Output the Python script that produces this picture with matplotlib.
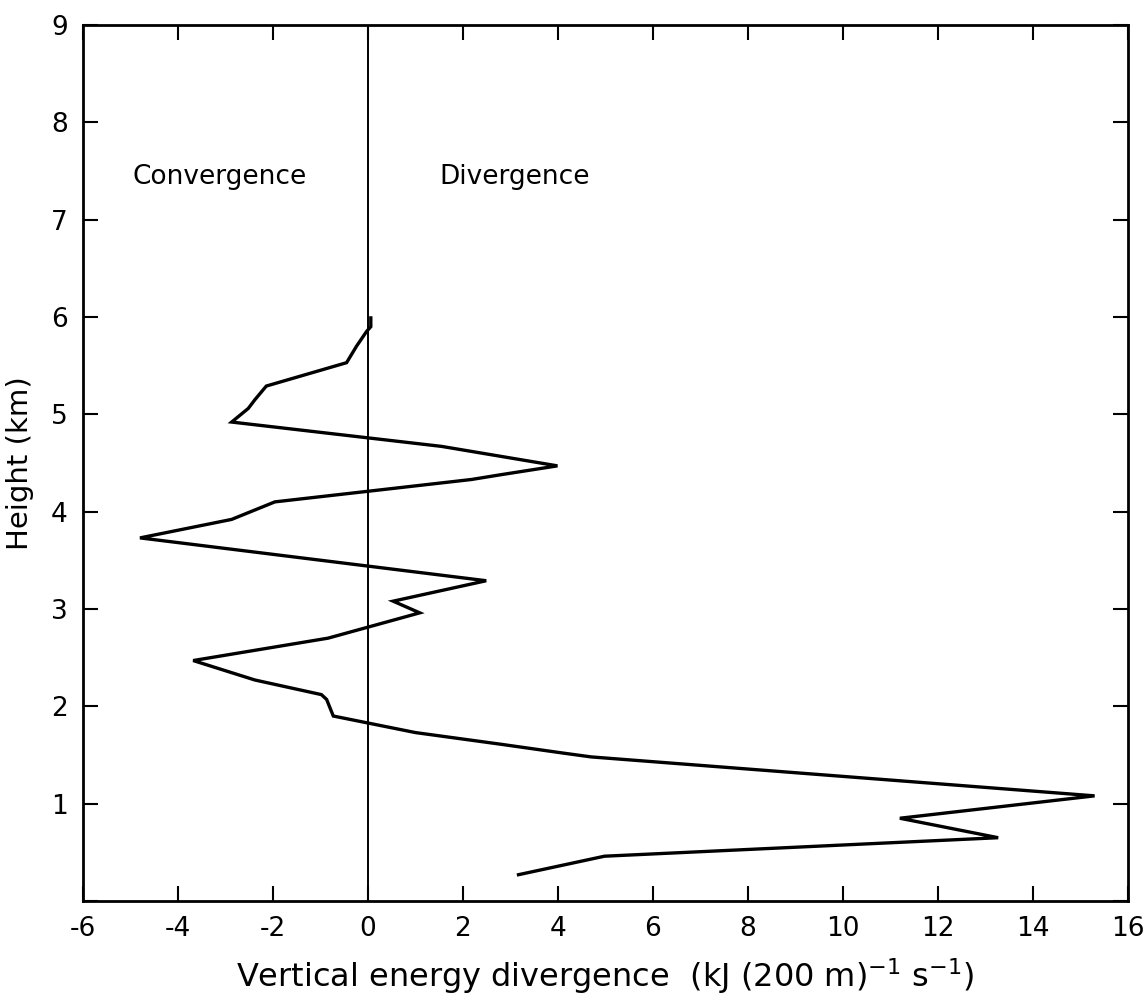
import matplotlib
matplotlib.use("Agg")
import matplotlib.pyplot as plt

plt.rcParams['font.family'] = ['DejaVu Sans']
plt.rcParams['mathtext.fontset'] = 'dejavusans'

# divergence (kJ (200 m)^-1 s^-1) vs height (km)
divergence = [0.06, 0.06, -0.03, -0.24, -0.45, -2.14, -2.38, -2.52, -2.87,
              1.55, 3.99, 2.81, 2.18, -1.96, -2.87, -4.80, 2.49, 0.53, 1.09,
              -0.84, -3.68, -2.38, -0.98, -0.87, -0.73, 1.0, 2.8, 4.1, 4.7,
              15.3, 11.2, 13.27, 4.98, 3.17]
height = [5.99, 5.90, 5.85, 5.70, 5.53, 5.29, 5.15, 5.06, 4.92,
          4.67, 4.47, 4.38, 4.33, 4.10, 3.92, 3.73, 3.29, 3.08, 2.96,
          2.70, 2.47, 2.27, 2.12, 2.07, 1.90, 1.73, 1.61, 1.52, 1.48,
          1.08, 0.85, 0.65, 0.46, 0.27]

xticks = list(range(-6, 17, 2))
yticks = list(range(0, 10))

fig = plt.figure(figsize=(11.45, 9.96), dpi=100)
ax = fig.add_axes([0.0725, 0.0954, 0.9125, 0.8796])

ax.plot(divergence, height, color='black', lw=2.4, solid_joinstyle='miter')
ax.axvline(0, color='black', lw=1.4)

ax.set_xlim(-6, 16)
ax.set_ylim(0, 9)
ax.set_xticks(xticks)
ax.set_xticklabels([str(t) for t in xticks])
ax.set_yticks(yticks)
ax.set_yticklabels(['' if t == 0 else str(t) for t in yticks])

ax.tick_params(direction='in', length=11, width=1.5, top=True, right=True,
               labelsize=19, pad=11)
for s in ax.spines.values():
    s.set_linewidth(2.0)

ax.text(-4.95, 7.44, 'Convergence', fontsize=19, va='center', ha='left')
ax.text(1.5, 7.44, 'Divergence', fontsize=19, va='center', ha='left')

ax.set_xlabel(r'Vertical energy divergence  (kJ (200 m)$^{-1}$ s$^{-1}$)',
              fontsize=23, labelpad=10)
ax.set_ylabel('Height (km)', fontsize=21, labelpad=12)

fig.savefig('out.png', dpi=100)
